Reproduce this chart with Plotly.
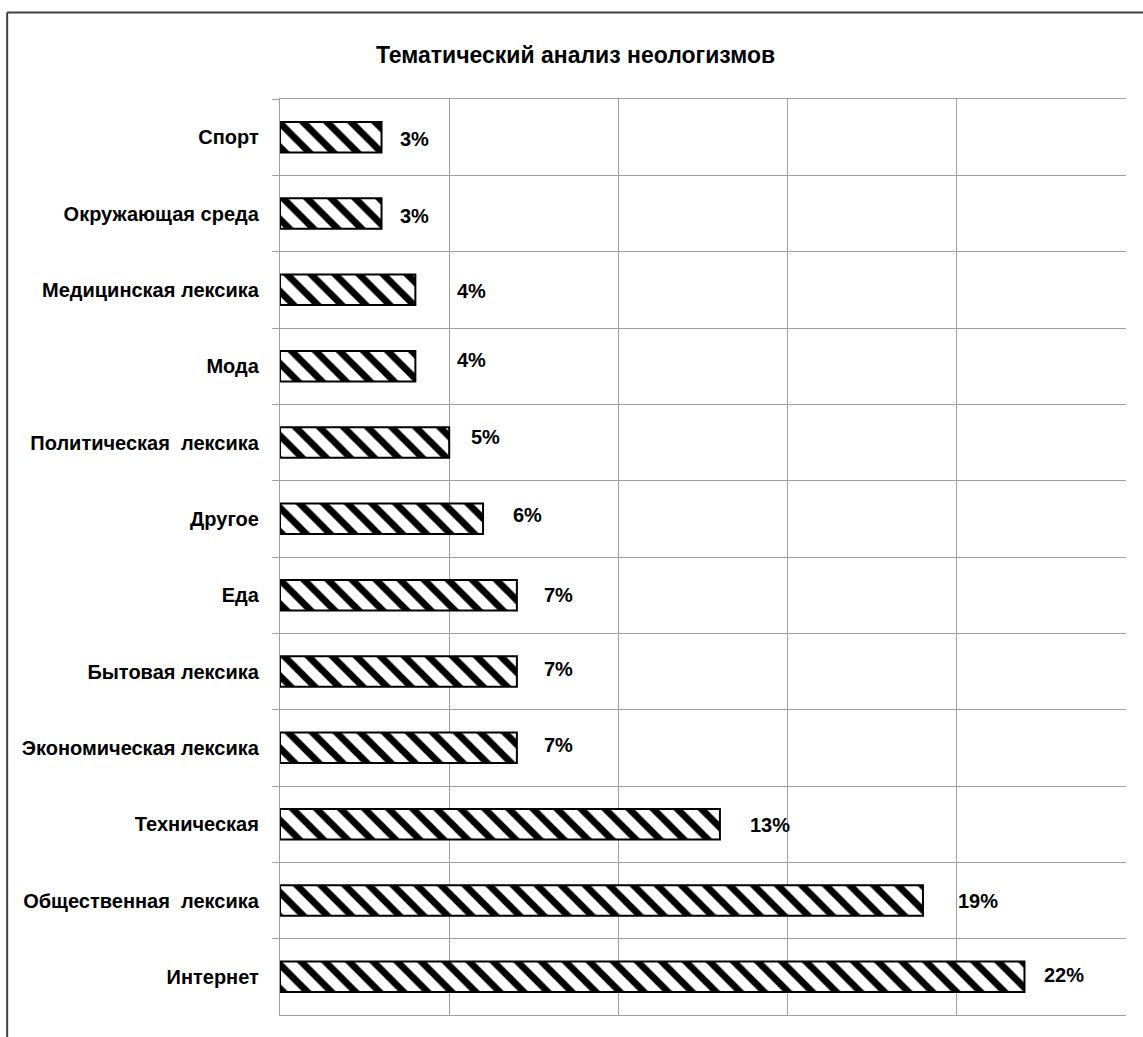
import plotly.graph_objects as go

# Thematic groups of neologisms (top to bottom) and their share, %
categories = [
    "Спорт",
    "Окружающая среда",
    "Медицинская лексика",
    "Мода",
    "Политическая  лексика",
    "Другое",
    "Еда",
    "Бытовая лексика",
    "Экономическая лексика",
    "Техническая",
    "Общественная  лексика",
    "Интернет",
]
shares = [3, 3, 4, 4, 5, 6, 7, 7, 7, 13, 19, 22]

# Hand-placed value label offsets (px from the bar end / bar centre)
label_dx = [16, 16, 40, 40, 20, 28, 25, 25, 25, 28, 33, 18]
label_dy = [-2, -2, -1, 6, 6, 4, 0, 3, 3, -1, 0, 2]

FONT = "Liberation Sans Narrow, Arial Narrow, Liberation Sans, Arial, sans-serif"
W, H = 1143, 1037
L, R, T, B = 280, 16.5, 99, 22
PW, PH = W - L - R, H - T - B

fig = go.Figure(
    go.Bar(
        x=shares,
        y=categories,
        orientation="h",
        width=0.4,
        marker=dict(
            color="white",
            line=dict(color="black", width=2),
            pattern=dict(shape="\\", fgcolor="black", bgcolor="white",
                         fgopacity=1, size=17, solidity=0.4),
        ),
        hoverinfo="skip",
    )
)

for cat, v, dx, dy in zip(categories, shares, label_dx, label_dy):
    fig.add_annotation(
        x=v, y=cat, text=f"{v}%", showarrow=False,
        xanchor="left", yanchor="middle", xshift=dx, yshift=dy,
        font=dict(family=FONT, size=20, color="black", weight="bold"),
    )

# Outer chart frame (left and top edges)
fx0 = (7 - L) / PW
fy0 = 1 + (T - 12.5) / PH
fig.add_shape(type="line", xref="paper", yref="paper",
              x0=fx0, x1=fx0, y0=fy0, y1=-B / PH - 0.01,
              line=dict(color="#404040", width=2))
fig.add_shape(type="line", xref="paper", yref="paper",
              x0=fx0, x1=(W - L) / PW + 0.01, y0=fy0, y1=fy0,
              line=dict(color="#404040", width=2))

fig.update_layout(
    width=W, height=H,
    margin=dict(l=L, r=R, t=T, b=B, pad=0),
    paper_bgcolor="white", plot_bgcolor="white",
    showlegend=False,
    title=dict(
        text="Тематический анализ неологизмов",
        x=575.5 / W, xanchor="center", y=1 - 55 / H, yanchor="middle",
        font=dict(family=FONT, size=23, color="black", weight="bold"),
    ),
    xaxis=dict(
        range=[0, 25], dtick=5, tick0=0,
        showticklabels=False, ticks="",
        showgrid=True, gridcolor="#a0a0a0", gridwidth=1.3,
        zeroline=False, showline=True, linecolor="#a0a0a0", linewidth=1.3,
        mirror=True, fixedrange=True,
    ),
    yaxis=dict(
        autorange="reversed",
        tickson="boundaries", ticks="outside", ticklen=7,
        tickcolor="#a0a0a0", tickwidth=1.3,
        showgrid=True, gridcolor="#a0a0a0", gridwidth=1.3,
        showline=True, linecolor="#a0a0a0", linewidth=1.3,
        ticklabelstandoff=16,
        tickfont=dict(family=FONT, size=20, color="black", weight="bold"),
        fixedrange=True,
    ),
)

fig.write_html("out.html")
